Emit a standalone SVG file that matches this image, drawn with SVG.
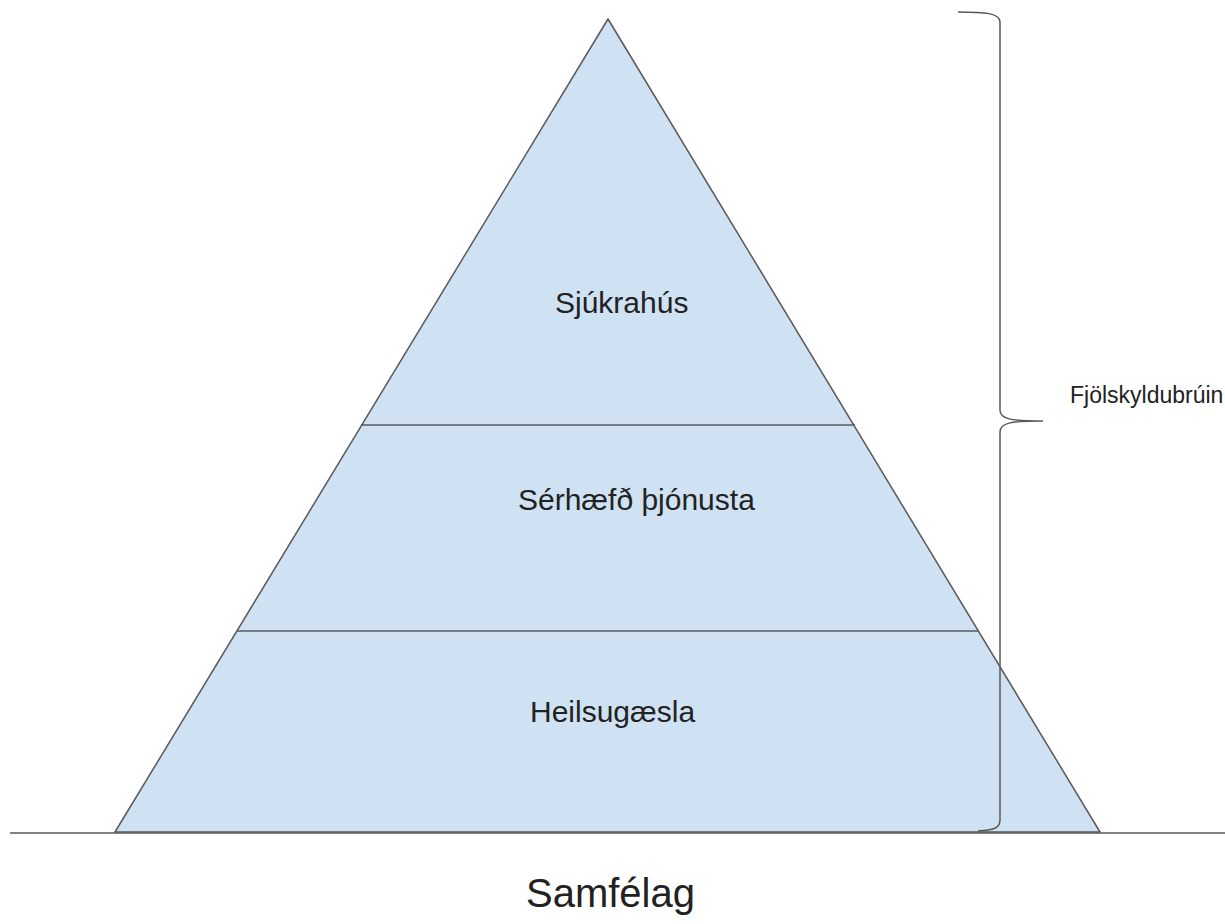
<svg xmlns="http://www.w3.org/2000/svg" width="1225" height="924" viewBox="0 0 1225 924">
<style>
.ln{stroke:#595959;stroke-width:1.5;fill:none}
.t{font-family:"Liberation Sans",Arial,sans-serif;fill:#222}
</style>
<rect width="1225" height="924" fill="#fff"/>
<g id="pyramid">
<polygon points="608,19 1100,832 115,832" fill="#cfe2f3" stroke="#595959" stroke-width="1.5" stroke-linejoin="round"/>
</g>
<g id="connectors">
<line class="ln" x1="361" y1="425" x2="855" y2="425"/>
<line class="ln" x1="237" y1="631" x2="979" y2="631"/>
<line class="ln" x1="10" y1="833" x2="1225" y2="833"/>
<path class="ln" stroke-width="2" d="M958,12 C985,12 1000,13 1000,22 L1000,410 C1000,419 1010,421 1043,421 C1010,421 1000,423 1000,432 L1000,820 C1000,829 992,830 978,831"/>
</g>
<g id="sjukrahus"><text class="t" x="555" y="313" font-size="30">Sjúkrahús</text></g>
<g id="serhaefd"><text class="t" x="518" y="510" font-size="30">Sérhæfð þjónusta</text></g>
<g id="heilsugaesla"><text class="t" x="530" y="722" font-size="30">Heilsugæsla</text></g>
<g id="samfelag"><text class="t" x="526" y="907" font-size="40">Samfélag</text></g>
<g id="fjolskyldubruin"><text class="t" x="1070" y="403" font-size="23">Fjölskyldubrúin</text></g>
</svg>
